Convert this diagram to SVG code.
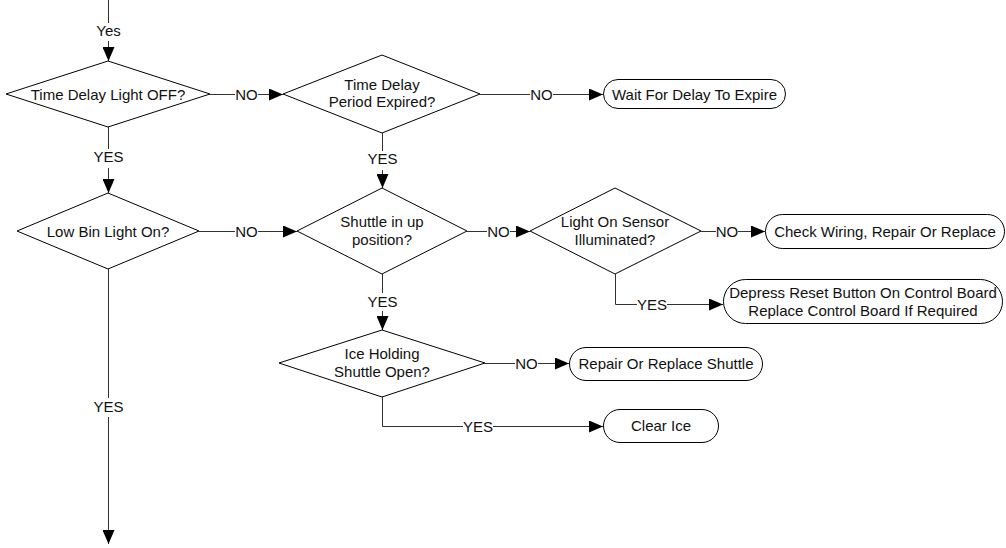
<svg xmlns="http://www.w3.org/2000/svg" width="1006" height="548" viewBox="0 0 1006 548">
<defs>
<style>
.shape{fill:#fff;stroke:#000;stroke-width:1}
.conn{fill:none;stroke:#333;stroke-width:1}
.t{font-family:"Liberation Sans",Arial,sans-serif;font-size:15px;fill:#111;text-anchor:middle}
.lbg{fill:#fff;stroke:none}
</style>
<marker id="arr" viewBox="0 0 14 12" refX="14" refY="6" markerWidth="14" markerHeight="12" markerUnits="userSpaceOnUse" orient="auto">
<path d="M0,0 L14,6 L0,12 Z" fill="#000"/>
</marker>
</defs>
<g id="connectors">
<path class="conn" d="M108.5,0 V61" marker-end="url(#arr)"/>
<path class="conn" d="M210,94.5 H283" marker-end="url(#arr)"/>
<path class="conn" d="M480,94.5 H603" marker-end="url(#arr)"/>
<path class="conn" d="M382.5,133 V188" marker-end="url(#arr)"/>
<path class="conn" d="M108.5,127 V193" marker-end="url(#arr)"/>
<path class="conn" d="M199,231.5 H297" marker-end="url(#arr)"/>
<path class="conn" d="M467,231.5 H530" marker-end="url(#arr)"/>
<path class="conn" d="M701,231.5 H765" marker-end="url(#arr)"/>
<path class="conn" d="M615.5,274 V304.5 H723" marker-end="url(#arr)"/>
<path class="conn" d="M382.5,274 V330" marker-end="url(#arr)"/>
<path class="conn" d="M485,363.5 H569" marker-end="url(#arr)"/>
<path class="conn" d="M382.5,397 V426.5 H603" marker-end="url(#arr)"/>
<path class="conn" d="M108.5,269 V544" marker-end="url(#arr)"/>
<rect class="lbg" x="95" y="23" width="27" height="18"/>
<text class="t" x="108.5" y="36">Yes</text>
<rect class="lbg" x="235" y="86" width="23" height="17"/>
<text class="t" x="246.5" y="100">NO</text>
<rect class="lbg" x="530" y="86" width="23" height="17"/>
<text class="t" x="541.5" y="100">NO</text>
<rect class="lbg" x="94" y="149" width="29" height="19"/>
<text class="t" x="108.5" y="162">YES</text>
<rect class="lbg" x="368" y="151" width="29" height="19"/>
<text class="t" x="382.5" y="164">YES</text>
<rect class="lbg" x="235" y="223" width="23" height="17"/>
<text class="t" x="246.5" y="237">NO</text>
<rect class="lbg" x="487" y="223" width="23" height="17"/>
<text class="t" x="498.5" y="237">NO</text>
<rect class="lbg" x="716" y="223" width="22" height="17"/>
<text class="t" x="727" y="237">NO</text>
<rect class="lbg" x="637" y="296" width="30" height="17"/>
<text class="t" x="652" y="309.5">YES</text>
<rect class="lbg" x="368" y="293" width="29" height="18"/>
<text class="t" x="382.5" y="307">YES</text>
<rect class="lbg" x="515" y="355" width="23" height="17"/>
<text class="t" x="526.5" y="369">NO</text>
<rect class="lbg" x="463" y="418" width="30" height="17"/>
<text class="t" x="478" y="431.5">YES</text>
<rect class="lbg" x="94" y="398" width="29" height="19"/>
<text class="t" x="108.5" y="412">YES</text>
</g>
<g id="d1">
<polygon class="shape" points="108,61 210,94 108,127 6,94"/>
<text class="t" x="108" y="99.5">Time Delay Light OFF?</text>
</g>
<g id="d2">
<polygon class="shape" points="382,55 480,94 382,133 283,94"/>
<text class="t" x="382" y="90">Time Delay</text>
<text class="t" x="382" y="107">Period Expired?</text>
</g>
<g id="t1">
<rect class="shape" x="603.5" y="79.5" width="182" height="29" rx="14.5"/>
<text class="t" x="694.5" y="99.5">Wait For Delay To Expire</text>
</g>
<g id="d3">
<polygon class="shape" points="108,193 199,231 108,269 17,231"/>
<text class="t" x="108" y="236.5">Low Bin Light On?</text>
</g>
<g id="d4">
<polygon class="shape" points="382,188 467,231 382,274 297,231"/>
<text class="t" x="382" y="227">Shuttle in up</text>
<text class="t" x="382" y="245">position?</text>
</g>
<g id="d5">
<polygon class="shape" points="615,188 701,231 615,274 530,231"/>
<text class="t" x="615" y="227">Light On Sensor</text>
<text class="t" x="615" y="245">Illuminated?</text>
</g>
<g id="t2">
<rect class="shape" x="765.5" y="214.5" width="239" height="34" rx="17"/>
<text class="t" x="885" y="236.5">Check Wiring, Repair Or Replace</text>
</g>
<g id="t3">
<rect class="shape" x="723.5" y="279.5" width="279" height="44" rx="22"/>
<text class="t" x="863" y="298">Depress Reset Button On Control Board</text>
<text class="t" x="863" y="316">Replace Control Board If Required</text>
</g>
<g id="d6">
<polygon class="shape" points="382,330 485,363 382,397 279,363"/>
<text class="t" x="382" y="358.5">Ice Holding</text>
<text class="t" x="382" y="376.5">Shuttle Open?</text>
</g>
<g id="t4">
<rect class="shape" x="569.5" y="347.5" width="193" height="33" rx="16.5"/>
<text class="t" x="666" y="369">Repair Or Replace Shuttle</text>
</g>
<g id="t5">
<rect class="shape" x="603.5" y="409.5" width="115" height="33" rx="16.5"/>
<text class="t" x="661" y="431">Clear Ice</text>
</g>
</svg>
